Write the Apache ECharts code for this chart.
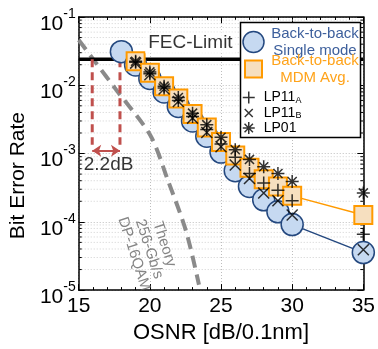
<!DOCTYPE html>
<html><head><meta charset="utf-8">
<script src="https://cdn.jsdelivr.net/npm/echarts@6/dist/echarts.min.js"></script>
<style>html,body{margin:0;padding:0;background:#fff}#c{width:378px;height:349px}</style>
</head><body><div id="c"></div>
<script>
// ---- data ----
const osnrB2B = [18, 19, 20, 21, 22, 23, 24, 25, 26, 27, 28, 29, 30, 35];
const berB2B = [0.0311, 0.0198, 0.0126, 0.0080, 0.0049, 0.0030, 0.00179, 0.00105, 0.00056, 0.00033, 0.00021, 0.000140, 0.000091, 0.0000354];
const osnrMDM = [19, 20, 21, 22, 23, 24, 25, 26, 27, 28, 29, 30, 35];
const berMDM = [0.0225, 0.0152, 0.0097, 0.0064, 0.0038, 0.0024, 0.00148, 0.00094, 0.00062, 0.00042, 0.00033, 0.00024, 0.000126];
const berLP11A = [0.0218, 0.0148, 0.0091, 0.0060, 0.0035, 0.00225, 0.00138, 0.00088, 0.00051, 0.00037, 0.00029, 0.000204, 0.0000656];
const berLP11B = [0.0211, 0.0143, 0.0088, 0.0058, 0.0033, 0.00204, 0.00126, 0.00068, 0.00043, 0.000265, 0.000204, 0.000126, 0.0000391];
const berLP01 = [0.0225, 0.0157, 0.0097, 0.0066, 0.0039, 0.00265, 0.00173, 0.00114, 0.00082, 0.00064, 0.00051, 0.00039, 0.000265];
const theoryOsnr = [15.0, 16.16, 17.65, 20.03, 21.26, 22.55, 23.45];
const theoryBer = [0.046, 0.022, 0.0085, 0.00185, 0.00041, 0.000072, 0.000012];
const fecLimit = 0.024;
const fecOsnr = [15, 35];
const gapOsnr = [15.95, 17.9];
const gapBottomBer = 0.00135;
const arrowBer = 0.0011;
const xMin = 15, xMax = 35, xStep = 5;
const yMin = 1e-5, yMax = 1e-1;
const labelGap = {text: '2.2dB', osnr: 17.1, ber: 0.00068};
const labelFec = {text: 'FEC-Limit', osnr: 22.85, ber: 0.042};
const labelTheory = {text: 'Theory\n256-Gb/s\nDP-16QAM', osnr: 19.95, ber: 0.000040};

// decoration: log minor tick positions
const yMinor = [];
for (let e = -5; e <= -2; e++) for (let m = 2; m <= 9; m++) yMinor.push(m * Math.pow(10, e));

const FONT = 'Liberation Sans';
const NAVY = '#24487f', LIGHTBLUE = '#c6d9f1', ORANGE = '#ff9a00', TAN = '#f6dfbf', RED = '#c0504d';
const P_PLUS = 'path://M6,0V12M0,6H12';
const P_X = 'path://M0,0L10,10M10,0L0,10';
const P_STAR = 'path://M6,0V12M0,6H12M1.8,1.8L10.2,10.2M10.2,1.8L1.8,10.2';
const P_SQ_LEG = 'path://M0,0M21,21M2,2H19V19H2Z';

const zip = (xs, ys) => xs.map((x, i) => [x, ys[i]]);
const chart = echarts.init(document.getElementById('c'), null, {renderer: 'canvas'});

const blackMark = {color: 'rgba(0,0,0,0)', borderColor: '#000', borderWidth: 1.5};
const legendFmt = function (name) {
  if (name === 'B2B SM') return '{b|Back-to-back}\n{b|Single mode}';
  if (name === 'B2B MDM') return '{o|Back-to-back}\n{o|MDM Avg.}';
  if (name === 'LP11A') return '{m|LP11}{s|A}';
  if (name === 'LP11B') return '{m|LP11}{s|B}';
  return '{m|LP01}';
};
const legendRich = {
  b: {color: '#3d5f9c', fontSize: 15, lineHeight: 17, width: 92, align: 'center', fontFamily: FONT},
  o: {color: '#ffa31a', fontSize: 15, lineHeight: 17, width: 92, align: 'center', fontFamily: FONT},
  m: {color: '#000', fontSize: 14, lineHeight: 14, fontFamily: FONT},
  s: {color: '#000', fontSize: 9, lineHeight: 8, padding: [6, 0, 0, 0], fontFamily: FONT}
};

const option = {
  animation: false,
  grid: {left: 71, right: 12, top: 17, bottom: 48},
  xAxis: [{
    type: 'value', min: xMin, max: xMax, interval: xStep,
    name: 'OSNR [dB/0.1nm]', nameLocation: 'middle', nameGap: 26,
    nameTextStyle: {fontSize: 22, color: '#000', fontFamily: FONT},
    axisLine: {show: true, lineStyle: {color: '#000', width: 1.5}},
    axisTick: {inside: true, length: 6, lineStyle: {color: '#000'}},
    minorTick: {show: true, splitNumber: 5, length: 3, lineStyle: {color: '#000'}},
    axisLabel: {fontSize: 21, color: '#000', margin: 6, fontFamily: FONT},
    splitLine: {show: true, lineStyle: {color: '#bdbdbd', type: [1, 2]}}
  }, {
    type: 'value', position: 'top', min: xMin, max: xMax, interval: xStep,
    axisLine: {show: true, lineStyle: {color: '#000', width: 1.5}},
    axisTick: {inside: true, length: 6, lineStyle: {color: '#000'}},
    minorTick: {show: true, splitNumber: 5, length: 3, lineStyle: {color: '#000'}},
    axisLabel: {show: false}, splitLine: {show: false}
  }],
  yAxis: [{
    type: 'log', min: yMin, max: yMax, logBase: 10,
    name: 'Bit Error Rate', nameLocation: 'middle', nameGap: 40,
    nameTextStyle: {fontSize: 21, color: '#000', fontFamily: FONT, padding: [0, 44, 0, 0]},
    axisLine: {show: true, lineStyle: {color: '#000', width: 1.5}},
    axisTick: {inside: true, length: 6, lineStyle: {color: '#000'}},
    axisLabel: {
      margin: 3, color: '#000', fontFamily: FONT,
      formatter: v => '{b|10}{s|' + Math.round(Math.log10(v)) + '}',
      rich: {
        b: {fontSize: 21, color: '#000', fontFamily: FONT, padding: [14, 0, 0, 0]},
        s: {fontSize: 14, color: '#000', fontFamily: FONT, padding: [0, 0, 6, 0]}
      }
    },
    splitLine: {show: true, lineStyle: {color: '#bdbdbd', type: [1, 2]}}
  }, {
    type: 'log', position: 'right', min: yMin, max: yMax, logBase: 10,
    axisLine: {show: true, lineStyle: {color: '#000', width: 1.5}},
    axisTick: {inside: true, length: 6, lineStyle: {color: '#000'}},
    axisLabel: {show: false}, splitLine: {show: false}
  }],
  legend: [{
    orient: 'vertical', left: 242, top: 26, padding: 0, itemGap: -5,
    itemWidth: 21, itemHeight: 21, selectedMode: false, z: 101,
    formatter: legendFmt, textStyle: {rich: legendRich},
    data: [
      {name: 'B2B SM', icon: 'circle', itemStyle: {color: LIGHTBLUE, borderColor: NAVY, borderWidth: 1.5}},
      {name: 'B2B MDM', icon: P_SQ_LEG, itemStyle: {color: TAN, borderColor: ORANGE, borderWidth: 2}}
    ]
  }, {
    orient: 'vertical', left: 242, top: 90, padding: 0, itemGap: 0.5,
    itemWidth: 20, itemHeight: 12, selectedMode: false, z: 101,
    formatter: legendFmt, textStyle: {rich: legendRich},
    data: [
      {name: 'LP11A', icon: P_PLUS, itemStyle: blackMark},
      {name: 'LP11B', icon: 'path://M1,1L9,9M9,1L1,9M-1,-1M11,11', itemStyle: blackMark},
      {name: 'LP01', icon: P_STAR, itemStyle: blackMark}
    ]
  }],
  graphic: {elements: [{
    type: 'rect', z: 100, shape: {x: 240.5, y: 22.5, width: 120, height: 115},
    style: {fill: '#fff', stroke: '#000', lineWidth: 1.5}
  }]},
  series: [
    {
      type: 'custom', name: 'minor', silent: true, z: 1,
      data: yMinor.map(v => [xMin, v]), encode: {x: 0, y: 1},
      renderItem: function (params, api) {
        const v = api.value(1);
        const a = api.coord([xMin, v]), b = api.coord([xMax, v]);
        return {type: 'group', children: [
          {type: 'line', shape: {x1: a[0], y1: a[1], x2: b[0], y2: b[1]}, style: {stroke: '#d0d0d0', lineWidth: 1, lineDash: [1, 2]}},
          {type: 'line', shape: {x1: a[0], y1: a[1], x2: a[0] + 3, y2: a[1]}, style: {stroke: '#000', lineWidth: 1}},
          {type: 'line', shape: {x1: b[0] - 3, y1: b[1], x2: b[0], y2: b[1]}, style: {stroke: '#000', lineWidth: 1}}
        ]};
      }
    },
    {
      type: 'line', name: 'Theory', data: zip(theoryOsnr, theoryBer), smooth: 0.3,
      showSymbol: false, silent: true, z: 2,
      lineStyle: {color: '#8a8a8a', width: 4, type: [12, 7]}
    },
    {
      type: 'line', name: 'FEC', data: zip(fecOsnr, [fecLimit, fecLimit]), showSymbol: false, silent: true, z: 3,
      lineStyle: {color: '#000', width: 3.5}
    },
    {
      type: 'line', name: 'gapL', data: zip([gapOsnr[0], gapOsnr[0]], [fecLimit, gapBottomBer]), showSymbol: false, silent: true, z: 3,
      lineStyle: {color: RED, width: 3, type: [8, 5]}
    },
    {
      type: 'line', name: 'gapR', data: zip([gapOsnr[1], gapOsnr[1]], [fecLimit, gapBottomBer]), showSymbol: false, silent: true, z: 3,
      lineStyle: {color: RED, width: 3, type: [8, 5]},
      markLine: {
        silent: true, symbol: ['arrow', 'arrow'], symbolSize: [9, 9], label: {show: false},
        lineStyle: {color: RED, width: 2, type: 'solid'},
        data: [[{coord: [gapOsnr[0], arrowBer]}, {coord: [gapOsnr[1], arrowBer]}]]
      }
    },
    {
      type: 'line', name: 'B2B SM', data: zip(osnrB2B, berB2B), z: 5,
      symbol: 'circle', symbolSize: 22,
      lineStyle: {color: NAVY, width: 1.5},
      itemStyle: {color: LIGHTBLUE, borderColor: NAVY, borderWidth: 1.5}
    },
    {
      type: 'line', name: 'B2B MDM', data: zip(osnrMDM, berMDM), z: 6,
      symbol: 'rect', symbolSize: 18,
      lineStyle: {color: ORANGE, width: 1.5},
      itemStyle: {color: TAN, borderColor: ORANGE, borderWidth: 2}
    },
    {type: 'scatter', name: 'LP11A', data: zip(osnrMDM, berLP11A), z: 7, symbol: P_PLUS, symbolSize: 13, itemStyle: blackMark},
    {type: 'scatter', name: 'LP11B', data: zip(osnrMDM, berLP11B), z: 7, symbol: P_X, symbolSize: 11, itemStyle: blackMark},
    {type: 'scatter', name: 'LP01', data: zip(osnrMDM, berLP01), z: 7, symbol: P_STAR, symbolSize: 13, itemStyle: blackMark},
    {
      type: 'scatter', name: 'labels', silent: true, z: 8, symbolSize: 0,
      data: [
        {value: [labelGap.osnr, labelGap.ber], label: {formatter: labelGap.text, fontSize: 19}},
        {value: [labelFec.osnr, labelFec.ber], label: {formatter: labelFec.text, fontSize: 19, backgroundColor: '#fff', padding: [1, 3]}},
        {value: [labelTheory.osnr, labelTheory.ber], label: {formatter: labelTheory.text, fontSize: 15, lineHeight: 16, rotate: -72, color: '#666'}}
      ],
      label: {show: true, position: 'inside', align: 'center', verticalAlign: 'middle', color: '#000', fontFamily: FONT}
    }
  ]
};
chart.setOption(option);
</script></body></html>
